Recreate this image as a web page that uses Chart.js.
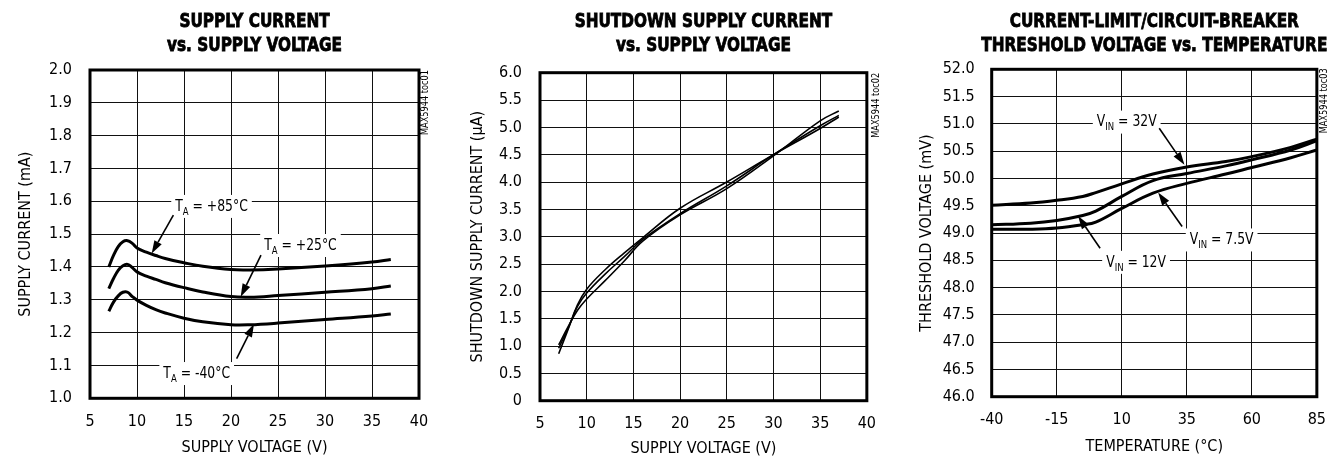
<!DOCTYPE html>
<html>
<head>
<meta charset="utf-8">
<script src="https://cdn.jsdelivr.net/npm/chart.js@4.4.1/dist/chart.umd.min.js"></script>
<style>
  html, body { margin: 0; padding: 0; background: #fff; }
  body { width: 1340px; height: 459px; position: relative; overflow: hidden; }
  canvas { position: absolute; top: 0; }
</style>
</head>
<body>
<canvas id="supplyChart" width="445" height="459" style="left:0"></canvas>
<canvas id="shutdownChart" width="445" height="459" style="left:445px"></canvas>
<canvas id="thresholdChart" width="450" height="459" style="left:890px"></canvas>
<script>
// supply current vs supply voltage (mA)
const supplyVolts = [7, 7.5, 8, 8.5, 9, 9.5, 10, 11, 12, 13, 15, 17, 20, 22, 25, 30, 35, 37];
const iccHot  = [1.400, 1.435, 1.462, 1.477, 1.480, 1.472, 1.458, 1.445, 1.435, 1.426, 1.413, 1.402, 1.392, 1.391, 1.394, 1.403, 1.415, 1.423];
const iccRoom = [1.334, 1.365, 1.390, 1.404, 1.408, 1.398, 1.385, 1.372, 1.362, 1.352, 1.337, 1.324, 1.310, 1.308, 1.313, 1.323, 1.334, 1.342];
const iccCold = [1.265, 1.293, 1.312, 1.323, 1.323, 1.310, 1.299, 1.283, 1.270, 1.260, 1.244, 1.233, 1.224, 1.224, 1.229, 1.240, 1.251, 1.257];

// shutdown supply current vs supply voltage (uA)
const shdnVolts = [7, 8, 9, 10, 12, 14, 16, 20, 25, 30, 35, 37];
const ishdnA = [0.86, 1.30, 1.75, 2.04, 2.40, 2.70, 2.98, 3.52, 4.00, 4.50, 4.98, 5.19];
const ishdnB = [0.96, 1.32, 1.72, 1.97, 2.32, 2.63, 2.95, 3.42, 3.93, 4.50, 5.03, 5.22];
const ishdnC = [1.02, 1.35, 1.65, 1.86, 2.20, 2.55, 2.92, 3.40, 3.88, 4.48, 5.12, 5.30];

// threshold voltage vs temperature (mV)
const tempC = [-40, -25, -15, -5, 0, 10, 22, 35, 50, 60, 75, 85];
const vth32V  = [49.51, 49.55, 49.60, 49.67, 49.74, 49.90, 50.08, 50.21, 50.31, 50.40, 50.57, 50.72];
const vth12V  = [49.15, 49.18, 49.23, 49.32, 49.40, 49.67, 49.96, 50.09, 50.23, 50.34, 50.52, 50.69];
const vth7V5  = [49.07, 49.07, 49.09, 49.15, 49.20, 49.45, 49.73, 49.91, 50.08, 50.20, 50.38, 50.52];

// tick values
const voltTicks = [5, 10, 15, 20, 25, 30, 35, 40];
const tempTicks = [-40, -15, 10, 35, 60, 85];
const iccTicks = [1.0, 1.1, 1.2, 1.3, 1.4, 1.5, 1.6, 1.7, 1.8, 1.9, 2.0];
const ishdnTicks = [0, 0.5, 1.0, 1.5, 2.0, 2.5, 3.0, 3.5, 4.0, 4.5, 5.0, 5.5, 6.0];
const vthTicks = [46.0, 46.5, 47.0, 47.5, 48.0, 48.5, 49.0, 49.5, 50.0, 50.5, 51.0, 51.5, 52.0];

const FAMILY = '"Liberation Sans Narrow", "DejaVu Sans Condensed", sans-serif';
const GRID = '#111';
Chart.defaults.font.family = FAMILY;
Chart.defaults.color = '#000';

function toPoints(xs, ys) {
  return xs.map((x, i) => ({ x: x, y: ys[i] }));
}

// text squeezed sideways, the original uses a condensed face
function squeezeText(ctx, txt, x, y, sx, stroke) {
  ctx.save();
  ctx.translate(x, y);
  ctx.scale(sx, 1);
  ctx.fillText(txt, 0, 0);
  if (stroke) ctx.strokeText(txt, 0, 0);
  ctx.restore();
}

function drawLabel(chart, a) {
  const ctx = chart.ctx;
  const sx = 0.86;
  const cx = chart.scales.x.getPixelForValue(a.at[0]);
  const cy = chart.scales.y.getPixelForValue(a.at[1]);
  const big = '16px ' + FAMILY;
  const small = '11px ' + FAMILY;
  ctx.font = big;
  const w1 = ctx.measureText(a.pre).width * sx;
  const w3 = ctx.measureText(a.post).width * sx;
  ctx.font = small;
  const w2 = ctx.measureText(a.sub).width * sx;
  const w = w1 + w2 + w3;
  const left = cx - w / 2;
  const base = cy + 5.8;
  ctx.fillStyle = '#fff';
  ctx.fillRect(left - 4, cy - 10, w + 8, 23);
  ctx.fillStyle = '#000';
  ctx.textAlign = 'left';
  ctx.textBaseline = 'alphabetic';
  ctx.font = big;
  squeezeText(ctx, a.pre, left, base, sx);
  ctx.font = small;
  squeezeText(ctx, a.sub, left + w1, base + 4, sx);
  ctx.font = big;
  squeezeText(ctx, a.post, left + w1 + w2, base, sx);
}

function drawArrow(chart, from, to) {
  const ctx = chart.ctx;
  const x0 = chart.scales.x.getPixelForValue(from[0]);
  const y0 = chart.scales.y.getPixelForValue(from[1]);
  const x1 = chart.scales.x.getPixelForValue(to[0]);
  const y1 = chart.scales.y.getPixelForValue(to[1]);
  const ang = Math.atan2(y1 - y0, x1 - x0);
  const len = 13, half = 4.2;
  const bx = x1 - Math.cos(ang) * len;
  const by = y1 - Math.sin(ang) * len;
  ctx.strokeStyle = '#000';
  ctx.lineWidth = 1.6;
  ctx.beginPath();
  ctx.moveTo(x0, y0);
  ctx.lineTo(bx, by);
  ctx.stroke();
  ctx.fillStyle = '#000';
  ctx.beginPath();
  ctx.moveTo(x1, y1);
  ctx.lineTo(bx + Math.sin(ang) * half, by - Math.cos(ang) * half);
  ctx.lineTo(bx - Math.sin(ang) * half, by + Math.cos(ang) * half);
  ctx.closePath();
  ctx.fill();
}

const panelDecor = {
  id: 'panelDecor',
  afterDatasetsDraw(chart, args, opts) {
    const ctx = chart.ctx;
    const area = chart.chartArea;
    ctx.save();
    (opts.notes || []).forEach(n => {
      drawLabel(chart, n);
      drawArrow(chart, n.from, n.to);
    });
    // frame
    ctx.strokeStyle = '#000';
    ctx.lineWidth = 3;
    ctx.strokeRect(area.left, area.top, area.right - area.left, area.bottom - area.top);
    // title
    const mid = (area.left + area.right) / 2;
    ctx.fillStyle = '#000';
    ctx.strokeStyle = '#000';
    ctx.lineWidth = 0.8;
    ctx.textAlign = 'center';
    ctx.textBaseline = 'alphabetic';
    ctx.font = 'bold 20px ' + FAMILY;
    opts.title.forEach((line, i) => {
      squeezeText(ctx, line, mid, 26.5 + i * 24.5, 0.85, true);
    });
    // toc tag
    ctx.translate(area.right + opts.tocDx, area.top + opts.tocDy);
    ctx.rotate(-Math.PI / 2);
    ctx.font = '11px ' + FAMILY;
    ctx.textAlign = 'right';
    ctx.textBaseline = 'middle';
    ctx.scale(0.83, 1);
    ctx.fillText(opts.toc, 0, 0);
    ctx.restore();
  }
};

function axis(cfg) {
  const isX = cfg.pos === 'x';
  return {
    type: 'linear',
    position: isX ? 'bottom' : 'left',
    min: cfg.ticks[0],
    max: cfg.ticks[cfg.ticks.length - 1],
    afterBuildTicks: s => { s.ticks = cfg.ticks.map(v => ({ value: v })); },
    afterFit: s => { if (isX) { s.height = cfg.size; } else { s.width = cfg.size; } },
    grid: { color: GRID, lineWidth: 1, drawTicks: false },
    border: { display: false },
    ticks: {
      color: '#000',
      font: { size: 16 },
      padding: cfg.pad,
      maxRotation: 0,
      autoSkip: false,
      callback: cfg.fmt
    },
    title: {
      display: true,
      text: cfg.title,
      color: '#000',
      font: { size: 16 },
      padding: cfg.titlePad
    }
  };
}

function lineSets(xs, list, width) {
  return list.map(ys => ({
    data: toPoints(xs, ys),
    borderColor: '#000',
    borderWidth: width,
    pointRadius: 0,
    fill: false,
    tension: 0.4
  }));
}

function makeChart(id, cfg) {
  return new Chart(document.getElementById(id), {
    type: 'line',
    data: { datasets: lineSets(cfg.xs, cfg.series, cfg.lineWidth) },
    options: {
      responsive: false,
      animation: false,
      events: [],
      layout: { padding: cfg.padding },
      plugins: {
        legend: { display: false },
        tooltip: { enabled: false },
        panelDecor: cfg.decor
      },
      scales: { x: axis(cfg.x), y: axis(cfg.y) }
    },
    plugins: [panelDecor]
  });
}

const one = v => Number(v).toFixed(1);

makeChart('supplyChart', {
  xs: supplyVolts,
  series: [iccHot, iccRoom, iccCold],
  lineWidth: 3,
  padding: { left: 0, top: 70, right: 26, bottom: 0 },
  x: { pos: 'x', ticks: voltTicks, size: 60.7, pad: 14, fmt: v => String(v), title: 'SUPPLY VOLTAGE (V)', titlePad: { top: 0, bottom: 2 } },
  y: { pos: 'y', ticks: iccTicks, size: 90, pad: 18, fmt: one, title: 'SUPPLY CURRENT (mA)', titlePad: { top: 16, bottom: 0 } },
  decor: {
    title: ['SUPPLY CURRENT', 'vs. SUPPLY VOLTAGE'],
    toc: 'MAX5944 toc01', tocDx: 6, tocDy: 0,
    notes: [
      { pre: 'T', sub: 'A', post: ' = +85\u00b0C', at: [17.93, 1.589], from: [13.87, 1.558], to: [11.56, 1.441] },
      { pre: 'T', sub: 'A', post: ' = +25\u00b0C', at: [27.39, 1.470], from: [23.19, 1.436], to: [21.03, 1.309] },
      { pre: 'T', sub: 'A', post: ' = -40\u00b0C', at: [16.35, 1.080], from: [20.6, 1.121], to: [22.45, 1.226] }
    ]
  }
});

makeChart('shutdownChart', {
  xs: shdnVolts,
  series: [ishdnA, ishdnB, ishdnC],
  lineWidth: 1.6,
  padding: { left: 0, top: 72.7, right: 21.5, bottom: 0 },
  x: { pos: 'x', ticks: voltTicks, size: 58.3, pad: 14, fmt: v => String(v), title: 'SUPPLY VOLTAGE (V)', titlePad: { top: 0, bottom: 1 } },
  y: { pos: 'y', ticks: ishdnTicks, size: 95, pad: 18, fmt: v => (v === 0 ? '0' : one(v)), title: 'SHUTDOWN SUPPLY CURRENT (\u00b5A)', titlePad: { top: 23, bottom: 0 } },
  decor: {
    title: ['SHUTDOWN SUPPLY CURRENT', 'vs. SUPPLY VOLTAGE'],
    toc: 'MAX5944 toc02', tocDx: 9, tocDy: 0
  }
});

makeChart('thresholdChart', {
  xs: tempC,
  series: [vth32V, vth12V, vth7V5],
  lineWidth: 3,
  padding: { left: 0, top: 69.3, right: 18.3, bottom: 0 },
  x: { pos: 'x', ticks: tempTicks, size: 62.3, pad: 14, fmt: v => String(v), title: 'TEMPERATURE (\u00b0C)', titlePad: { top: 0, bottom: 3 } },
  y: { pos: 'y', ticks: vthTicks, size: 101.7, pad: 17, fmt: one, title: 'THRESHOLD VOLTAGE (mV)', titlePad: { top: 27, bottom: 0 } },
  decor: {
    title: ['CURRENT-LIMIT/CIRCUIT-BREAKER', 'THRESHOLD VOLTAGE vs. TEMPERATURE'],
    toc: 'MAX5944 toc03', tocDx: 7.5, tocDy: -1,
    notes: [
      { pre: 'V', sub: 'IN', post: ' = 32V', at: [11.9, 51.06], from: [24.4, 50.92], to: [34.1, 50.25] },
      { pre: 'V', sub: 'IN', post: ' = 7.5V', at: [48.4, 48.90], from: [33.2, 49.12], to: [24.0, 49.74] },
      { pre: 'V', sub: 'IN', post: ' = 12V', at: [15.5, 48.49], from: [1.67, 48.72], to: [-6.8, 49.31] }
    ]
  }
});
</script>
</body>
</html>
